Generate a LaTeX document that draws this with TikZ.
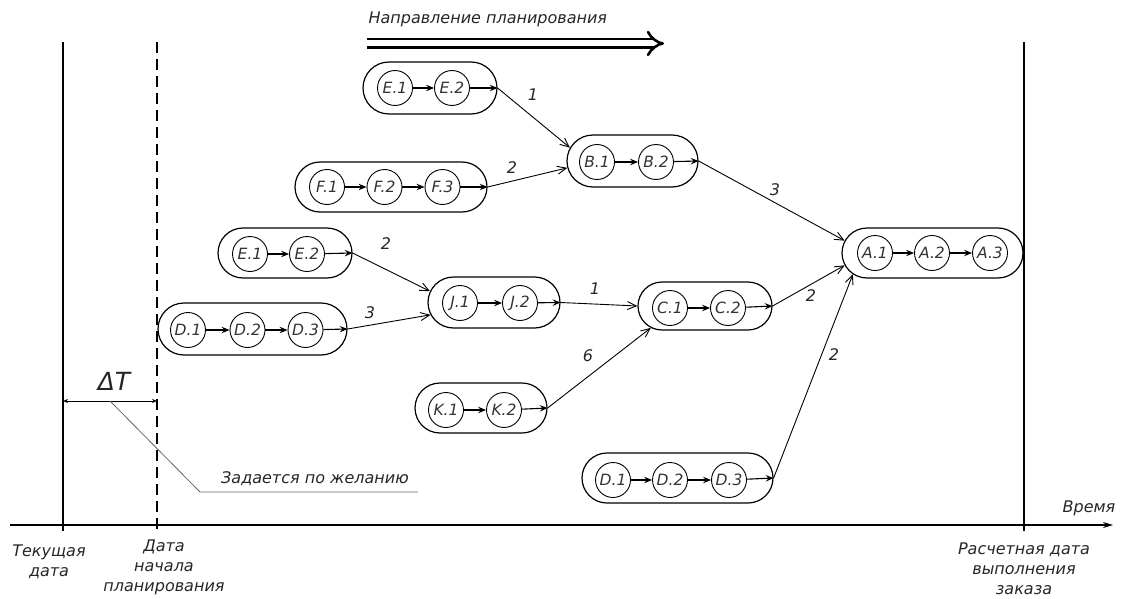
\documentclass[tikz,border=0pt]{standalone}
\usepackage{fontspec}
\setmainfont{DejaVu Sans}
\usetikzlibrary{arrows.meta,shapes.misc,calc}
\begin{document}
\begin{tikzpicture}[x=1pt,y=-1pt,
  pill/.style={draw, rounded rectangle, line width=1.2pt, minimum height=50pt, inner sep=0pt},
  circ/.style={draw, circle, line width=0.9pt, minimum size=35pt, inner sep=0pt, font=\fontsize{15.5}{15}\selectfont\itshape, text=black!80},
  inarr/.style={line width=1.1pt, -{Stealth[length=8pt,width=6.5pt,inset=3pt]}},
  conn/.style={line width=0.9pt, -{Straight Barb[length=9pt,width=8pt]}},
  num/.style={font=\fontsize{16}{16}\selectfont\itshape, text=black!85},
  lbl/.style={font=\fontsize{16}{20}\selectfont\itshape, align=center, text=black!85},
  vline/.style={line width=2pt},
]
\useasboundingbox (0,0) rectangle (1126,599);

% time lines
\draw[vline] (63,42) -- (63,531);
\draw[vline, dash pattern=on 11pt off 6pt] (157,42) -- (157,531);
\draw[vline] (1024,42) -- (1024,531);
\draw[line width=1.5pt, -{Stealth[length=10pt,width=6pt]}] (10,525) -- (1113,525);
\node[lbl] (time) at (1089,508) {Время};
\node[lbl] (cur) at (49,562) {Текущая\\дата};
\node[lbl] (start) at (164,567) {Дата\\начала\\планирования};
\node[lbl] (due) at (1024,569) {Расчетная дата\\выполнения\\заказа};

% planning direction
\node[lbl, anchor=west] (dir) at (365,19) {Направление планирования};
\coordinate (d0) at (367,43.5);
\coordinate (d1) at (664,43.5);
\draw[line width=2.6pt, double distance=6pt, -{Implies}] (d0) -- (d1);

% delta T
\node[font=\fontsize{25}{25}\selectfont\itshape, text=black!85] (dT) at (114,381) {ΔT};
\coordinate (dl) at (63,401);
\coordinate (dr) at (157,401);
\draw[line width=0.8pt, {Stealth[length=5pt,width=4pt]}-{Stealth[length=5pt,width=4pt]}] (dl) -- (dr);
\coordinate (l0) at (110,401);
\coordinate (l1) at (200,492);
\coordinate (l2) at (418,492);
\draw[black!60, line width=0.8pt] (l0) -- (l1) -- (l2);
\node[lbl] (opt) at (315,479) {Задается по желанию};

% pills
\node[pill, minimum width=134pt, minimum height=52pt] (Et) at (430,88) {};
\node[circ] (Et1) at (395,88) {E.1};
\node[circ] (Et2) at (452,88) {E.2};
\draw[inarr] (Et1) -- (Et2);
\draw[inarr] (Et2) -- (Et.east);

\node[pill, minimum width=131pt, minimum height=52pt] (B) at (632.5,161) {};
\node[circ] (B1) at (597,162) {B.1};
\node[circ] (B2) at (656,162) {B.2};
\draw[inarr] (B1) -- (B2);
\draw[inarr] (B2) -- (B.east);

\node[pill, minimum width=192pt] (F) at (391,187) {};
\node[circ] (F1) at (327,187) {F.1};
\node[circ] (F2) at (384.5,187) {F.2};
\node[circ] (F3) at (442.5,187) {F.3};
\draw[inarr] (F1) -- (F2);
\draw[inarr] (F2) -- (F3);
\draw[inarr] (F3) -- (F.east);

\node[pill, minimum width=134pt] (Em) at (285,253) {};
\node[circ] (Em1) at (250,254) {E.1};
\node[circ] (Em2) at (307,254) {E.2};
\draw[inarr] (Em1) -- (Em2);
\draw[inarr] (Em2) -- (Em.east);

\node[pill, minimum width=132pt, minimum height=51pt] (J) at (494,302.5) {};
\node[circ] (J1) at (460,303) {J.1};
\node[circ] (J2) at (520,303) {J.2};
\draw[inarr] (J1) -- (J2);
\draw[inarr] (J2) -- (J.east);

\node[pill, minimum width=189pt, minimum height=52pt] (Da) at (252.5,329) {};
\node[circ] (Da1) at (188,330) {D.1};
\node[circ] (Da2) at (247.5,330) {D.2};
\node[circ] (Da3) at (305.5,330) {D.3};
\draw[inarr] (Da1) -- (Da2);
\draw[inarr] (Da2) -- (Da3);
\draw[inarr] (Da3) -- (Da.east);

\node[pill, minimum width=134pt, minimum height=48pt] (C) at (705,306) {};
\node[circ] (C1) at (670,308) {C.1};
\node[circ] (C2) at (728,308) {C.2};
\draw[inarr] (C1) -- (C2);
\draw[inarr] (C2) -- (C.east);

\node[pill, minimum width=132pt] (K) at (481,408) {};
\node[circ] (K1) at (446,410) {K.1};
\node[circ] (K2) at (504,410) {K.2};
\draw[inarr] (K1) -- (K2);
\draw[inarr] (K2) -- (K.east);

\node[pill, minimum width=181pt] (A) at (932.5,253) {};
\node[circ] (A1) at (875,253) {A.1};
\node[circ] (A2) at (932,253) {A.2};
\node[circ] (A3) at (990,253) {A.3};
\draw[inarr] (A1) -- (A2);
\draw[inarr] (A2) -- (A3);

\node[pill, minimum width=191pt] (Db) at (677.5,478) {};
\node[circ] (Db1) at (613,480) {D.1};
\node[circ] (Db2) at (670,480) {D.2};
\node[circ] (Db3) at (729,480) {D.3};
\draw[inarr] (Db1) -- (Db2);
\draw[inarr] (Db2) -- (Db3);
\draw[inarr] (Db3) -- (Db.east);

% connectors
\draw[conn] (Et.east) -- (B.168);
\draw[conn] (F.east) -- (B.186);
\draw[conn] (B.east) -- (A.172);
\draw[conn] (C.east) -- (A.188);
\draw[conn] (Db.east) -- (A.195);
\draw[conn] (Em.east) -- (J.170);
\draw[conn] (Da.east) -- (J.191);
\draw[conn] (J.east) -- (C.west);
\draw[conn] (K.east) -- (C.202);

% weights
\node[num] (w1) at (533,95) {1};
\node[num] (w2) at (512,168) {2};
\node[num] (w3) at (775,190) {3};
\node[num] (w4) at (386,244) {2};
\node[num] (w5) at (370,313) {3};
\node[num] (w6) at (595,289) {1};
\node[num] (w7) at (588,356) {6};
\node[num] (w8) at (811,296) {2};
\node[num] (w9) at (834,355) {2};
\end{tikzpicture}
\end{document}
